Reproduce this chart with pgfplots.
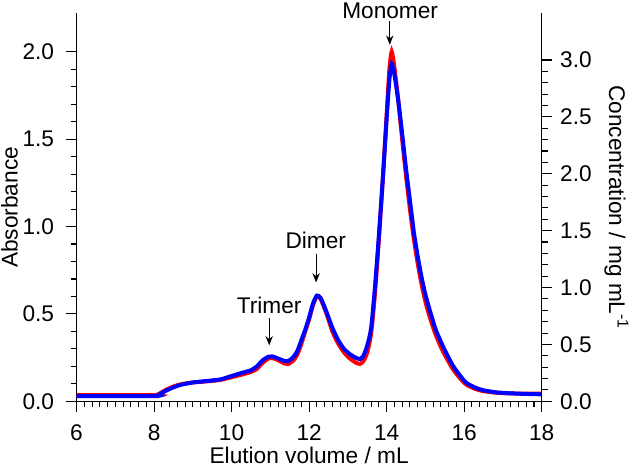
\documentclass[border=0pt]{standalone}
\usepackage{pgfplots}
\pgfplotsset{compat=1.18}
\usepackage{fontspec}
\setmainfont{Liberation Sans}
\usetikzlibrary{arrows.meta}

% elution profiles (absorbance units)
\pgfplotstableread{
x y
6.0 0.036
8.0 0.036
8.1 0.040
8.3 0.065
8.5 0.085
8.7 0.098
9.0 0.108
9.3 0.113
9.7 0.122
10.0 0.138
10.3 0.155
10.5 0.168
10.65 0.185
10.8 0.220
10.95 0.245
11.05 0.248
11.2 0.235
11.35 0.218
11.46 0.214
11.6 0.235
11.7 0.270
11.8 0.330
11.9 0.400
12.0 0.470
12.1 0.550
12.2 0.600
12.3 0.585
12.45 0.500
12.6 0.400
12.75 0.330
12.9 0.280
13.05 0.245
13.2 0.222
13.31 0.214
13.4 0.230
13.5 0.280
13.6 0.390
13.7 0.620
13.8 0.930
13.9 1.270
14.0 1.640
14.07 1.900
14.13 2.000
14.2 1.910
14.3 1.720
14.4 1.500
14.5 1.290
14.6 1.100
14.7 0.930
14.8 0.790
14.9 0.670
15.0 0.570
15.1 0.490
15.25 0.390
15.4 0.310
15.55 0.245
15.72 0.180
15.9 0.130
16.06 0.095
16.3 0.070
16.5 0.058
16.8 0.050
17.1 0.046
17.5 0.044
18.0 0.044
}\redtab

\pgfplotstableread{
x y
6.0 0.030
8.0 0.030
8.1 0.035
8.3 0.060
8.5 0.080
8.7 0.095
9.0 0.108
9.3 0.115
9.7 0.125
10.0 0.145
10.3 0.165
10.5 0.178
10.65 0.200
10.8 0.235
10.95 0.255
11.05 0.257
11.2 0.245
11.35 0.232
11.46 0.230
11.6 0.255
11.7 0.290
11.8 0.350
11.9 0.410
12.0 0.480
12.1 0.560
12.2 0.605
12.3 0.590
12.45 0.510
12.6 0.420
12.75 0.350
12.9 0.300
13.05 0.270
13.2 0.250
13.31 0.242
13.4 0.260
13.5 0.320
13.6 0.420
13.7 0.660
13.8 0.950
13.9 1.270
14.0 1.620
14.07 1.840
14.13 1.930
14.2 1.870
14.3 1.720
14.4 1.530
14.5 1.330
14.6 1.150
14.7 0.970
14.8 0.830
14.9 0.710
15.0 0.610
15.1 0.530
15.25 0.420
15.4 0.340
15.55 0.270
15.72 0.200
15.9 0.145
16.06 0.105
16.3 0.077
16.5 0.063
16.8 0.052
17.1 0.047
17.5 0.043
18.0 0.040
}\bluetab

\begin{document}
\fontsize{17}{20}\selectfont
\begin{tikzpicture}
\pgfplotsset{
    every axis/.append style={
        scale only axis,
        width=348.9pt, height=291pt,
        xmin=6, xmax=18,
        tick align=outside,
        major tick length=8pt,
        minor tick length=4.5pt,
        every tick/.style={black, line width=0.8pt},
        axis line style={line width=0.8pt},
        tick label style={font=\fontsize{17}{20}\selectfont},
        label style={font=\fontsize{17}{20}\selectfont},
        /pgf/number format/assume math mode=true,
        clip=false,
    },
}
\begin{axis}[
    axis x line*=bottom,
    axis y line*=left,
    ymin=0, ymax=2.22,
    xtick={6,8,...,18},
    minor x tick num=9,
    ytick={0,0.5,...,2.0},
    minor y tick num=4,
    yticklabel style={xshift=-3pt, /pgf/number format/.cd, fixed, fixed zerofill, precision=1},
    xticklabel style={yshift=-4pt},
    xlabel={Elution volume / mL},
    ylabel={Absorbance},
    xlabel style={yshift=7pt},
    ylabel style={yshift=-8pt},
]
\addplot[red, line width=3pt, smooth, tension=0.4] table[x=x, y=y] {\redtab};
\addplot[blue, line width=3pt, smooth, tension=0.4] table[x=x, y=y] {\bluetab};

\node at (axis cs:14.09,2.235) {Monomer};
\draw[-{Stealth[length=7pt,width=5.5pt]}, line width=0.8pt] (axis cs:14.08,2.175) -- (axis cs:14.08,2.04);
\node at (axis cs:12.17,0.92) {Dimer};
\draw[-{Stealth[length=7pt,width=5.5pt]}, line width=0.8pt] (axis cs:12.18,0.845) -- (axis cs:12.18,0.68);
\node at (axis cs:10.97,0.55) {Trimer};
\draw[-{Stealth[length=7pt,width=5.5pt]}, line width=0.8pt] (axis cs:10.97,0.475) -- (axis cs:10.97,0.32);
\end{axis}

\begin{axis}[
    axis y line*=right,
    axis x line=none,
    ymin=0, ymax=3.41,
    ytick={0,0.5,...,3.0},
    minor y tick num=4,
    yticklabel style={xshift=0pt, /pgf/number format/.cd, fixed, fixed zerofill, precision=1},
    ylabel={Concentration / mg mL\textsuperscript{-1}},
    ylabel style={rotate=180, yshift=-2pt},
]
\end{axis}
\pgfresetboundingbox
\path[use as bounding box] (-57.4pt,-49pt) rectangle (422.6pt,301pt);
\end{tikzpicture}
\end{document}
